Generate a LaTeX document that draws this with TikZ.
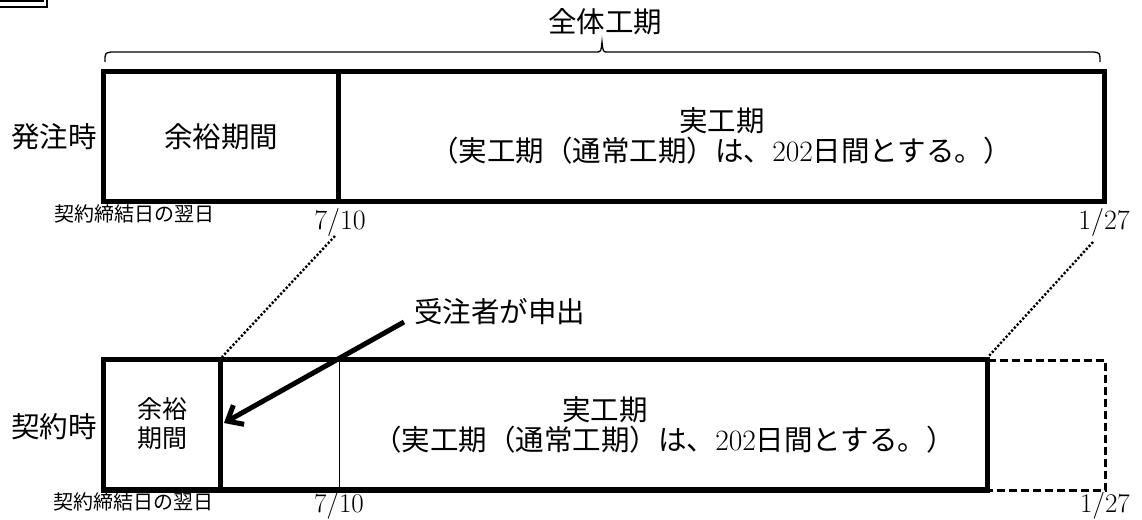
\documentclass[tikz,border=0pt]{standalone}
\usepackage{fontspec}
\newfontfamily\cjk{Noto Sans CJK JP}
\usetikzlibrary{arrows.meta}
\tikzset{
  thickbox/.style={line width=5.5pt},
  thinline/.style={line width=1pt},
  dotline/.style={line width=2.4pt, dash pattern=on 2.2pt off 1.9pt},
  dashline/.style={line width=3pt, dash pattern=on 8pt off 4pt},
  lbl/.style={inner sep=0pt, anchor=center},
  big/.style={font=\cjk\fontsize{28.5}{31}\selectfont},
  mid/.style={font=\cjk\fontsize{25}{29}\selectfont, align=center},
  small/.style={font=\cjk\fontsize{20}{22}\selectfont},
  frac/.style={font=\rmfamily\fontsize{28}{30}\selectfont},
  fracb/.style={font=\rmfamily\fontsize{27}{29}\selectfont},
}
\newcommand{\numtxt}[1]{{\rmfamily\fontsize{29.5}{31}\selectfont #1}}
\begin{document}
\begin{tikzpicture}[x=1pt,y=-1pt]
\useasboundingbox (0,0) rectangle (1142,519);
\clip (0,0) rectangle (1142,519);
% cropped double frame corner at top left
\draw[line width=2pt] (-10,1.5) -| (43,-10);
\draw[line width=2.5pt] (-10,7) -| (47,-10);
% brace
\draw[line width=1.3pt] (105,62) .. controls (105,53) .. (111,52) -- (596,52)
  .. controls (601,52) .. (602,42) .. controls (603,52) .. (608,52) -- (1094,52)
  .. controls (1100,53) .. (1100,62);
\node[lbl, big] (whole) at (605,22) {全体工期};
% top box
\coordinate (tA) at (103.5,71.5);
\coordinate (tB) at (1104.5,201.5);
\coordinate (tD1) at (338.5,71.5);
\coordinate (tD2) at (338.5,201.5);
\draw[thickbox] (tA) rectangle (tB);
\draw[thickbox] (tD1) -- (tD2);
\node[lbl, big] (hatchu) at (54,137) {発注時};
\node[lbl, big] (yoyu1) at (221,137) {余裕期間};
\node[lbl, big] (jitsu1a) at (722,121) {実工期};
\node[lbl, big] (jitsu1b) at (721,151) {（実工期（通常工期）は、\numtxt{202}日間とする。）};
\node[lbl, small] (kei1) at (134,214) {契約締結日の翌日};
\node[lbl, frac] (d710a) at (340,222.5) {7/10};
\node[lbl, frac] (d127a) at (1104,222) {1/27};
% bottom box
\coordinate (bA) at (103.5,359.5);
\coordinate (bB) at (987.5,490);
\coordinate (bD1) at (220.5,359.5);
\coordinate (bD2) at (220.5,490);
\coordinate (bT1) at (339.5,359.5);
\coordinate (bT2) at (339.5,490);
\coordinate (bR1) at (987.5,360);
\coordinate (bR2) at (987.5,490);
\coordinate (eR1) at (1105,360);
\coordinate (eR2) at (1105,490);
\draw[thinline] (bT1) -- (bT2);
\draw[dashline] (bR1) -- (eR1) -- (eR2) -- (bR2);
\draw[thickbox] (bA) rectangle (bB);
\draw[thickbox] (bD1) -- (bD2);
\node[lbl, big] (keiyaku) at (54,427) {契約時};
\node[lbl, mid] (yoyu2) at (162,423.5) {余裕\\期間};
\node[lbl, big] (jitsu2a) at (605,409.5) {実工期};
\node[lbl, big] (jitsu2b) at (664,439.5) {（実工期（通常工期）は、\numtxt{202}日間とする。）};
\node[lbl, small] (kei2) at (133,501.5) {契約締結日の翌日};
\node[lbl, fracb] (d710b) at (339,505.5) {7/10};
\node[lbl, fracb] (d127b) at (1105,505.5) {1/27};
% dotted links
\coordinate (dl1) at (335,236);
\coordinate (dl2) at (222,357);
\coordinate (dr1) at (1093,242);
\coordinate (dr2) at (988,357);
\draw[dotline] (dl1) -- (dl2);
\draw[dotline] (dr1) -- (dr2);
% request arrow
\node[lbl, big, anchor=west] (juchu) at (414,312) {受注者が申出};
\coordinate (as) at (404,322);
\coordinate (ae) at (224,423);
\draw[line width=5pt, -{Straight Barb[length=13pt, width=22pt, line width=5pt]}] (as) -- (ae);
\end{tikzpicture}
\end{document}
